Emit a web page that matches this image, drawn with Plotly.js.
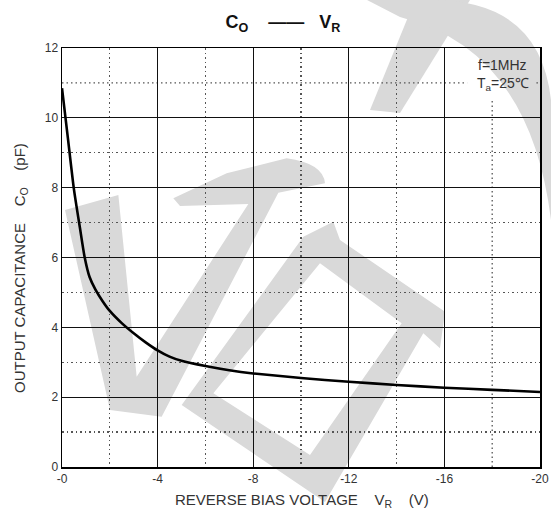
<!DOCTYPE html>
<html>
<head>
<meta charset="utf-8">
<script src="https://cdn.plot.ly/plotly-3.0.1.min.js"></script>
<style>html,body{margin:0;padding:0;background:#fff;}#chart{width:551px;height:515px;}</style>
</head>
<body>
<div id="chart"></div>
<script>
// ---- data ----
const voltage = [0, -0.25, -0.5, -0.75, -0.95, -1.15, -1.4, -1.7, -2, -2.5, -3, -3.5, -4, -4.5, -5, -6, -7, -8, -10, -12, -14, -16, -18, -20];
const capacitance = [10.85, 9.4, 7.95, 6.85, 6.0, 5.45, 5.08, 4.75, 4.47, 4.12, 3.83, 3.57, 3.34, 3.16, 3.04, 2.89, 2.77, 2.68, 2.55, 2.44, 2.35, 2.27, 2.21, 2.15];
const xTickVals = [0, -4, -8, -12, -16, -20];
const xTickText = ['-0', '-4', '-8', '-12', '-16', '-20'];
const yTickVals = [0, 2, 4, 6, 8, 10, 12];
const xMinorVals = [-2, -6, -10, -14];
const yMinorVals = [1, 3, 5, 7, 9];

// ---- decorative watermark (pixel outline -> paper coords) ----
const W = 551, H = 515, mL = 62, mR = 11, mT = 48, mB = 48;
const pw = W - mL - mR, ph = H - mT - mB;
function p(x, y) { return ((x - mL) / pw).toFixed(4) + ',' + ((H - mB - y) / ph).toFixed(4); }
function z(x, y) { return p(40 + x / 3, 130 + y / 3); }
const wmColor = '#d9d9d9';
const wmPaths = [
  'M' + z(75,240) + ' L' + z(235,195) + ' L' + z(290,740) + ' L' + z(625,222) + ' L' + z(420,228) + ' L' + z(400,205) +
  ' L' + z(560,130) + ' L' + z(740,85) + ' Q' + z(850,100) + ' ' + z(855,160) + ' L' + z(715,188) + ' L' + z(365,860) + ' L' + z(210,840) + ' Z',
  'M' + z(790,320) + ' L' + z(880,275) + ' L' + z(900,330) + ' L' + z(1215,545) + ' L' + z(1200,655) + ' L' + z(1150,610) +
  ' L' + z(855,1116) + ' L' + z(425,825) + ' Z M' + z(840,400) + ' L' + z(1085,580) + ' L' + z(810,975) + ' L' + z(520,790) + ' Z',
  'M' + p(415,0) + ' L' + p(470,0) + ' L' + p(400,113) + ' L' + p(370,110) + ' Z',
  'M' + p(367,0) + ' L' + p(432,0) + ' Q' + p(540,0) + ' ' + p(551,100) + ' L' + p(551,220) + ' Q' + p(530,50) + ' ' + p(400,17) + ' Z'
];
const shapes = wmPaths.map(d => ({
  type: 'path', path: d, xref: 'paper', yref: 'paper', layer: 'below',
  fillcolor: wmColor, fillrule: 'evenodd', line: {width: 0}
}));
// dotted grid lines that stop around the condition note
const dotLine = {color: '#555', width: 1.3, dash: '1.5px,3px'};
shapes.push(
  {type: 'line', xref: 'x', yref: 'y', x0: 0, x1: -16.95, y0: 11, y1: 11, layer: 'below', line: dotLine},
  {type: 'line', xref: 'x', yref: 'y', x0: -19.85, x1: -20, y0: 11, y1: 11, layer: 'below', line: dotLine},
  {type: 'line', xref: 'x', yref: 'y', x0: -18, x1: -18, y0: 0, y1: 10.55, layer: 'below', line: dotLine}
);

const font = 'Liberation Sans, Arial, sans-serif';
const txt = '#333';

const trace = {
  x: voltage, y: capacitance, type: 'scatter', mode: 'lines',
  line: {color: '#000', width: 2.6, shape: 'spline', smoothing: 0.6},
  hoverinfo: 'skip', showlegend: false
};

const nb = n => '\u00A0'.repeat(n);

const layout = {
  width: W, height: H,
  margin: {l: mL, r: mR, t: mT, b: mB},
  paper_bgcolor: '#fff', plot_bgcolor: 'rgba(0,0,0,0)',
  font: {family: font, color: txt, size: 12},
  title: {
    text: '<b>C<sub>O</sub>' + nb(4) + '——' + nb(3) + 'V<sub>R</sub></b>',
    x: 283 / W, xref: 'container', xanchor: 'center',
    y: 1 - 22 / H, yref: 'container', yanchor: 'middle',
    font: {family: font, size: 18, color: '#111'}
  },
  xaxis: {
    range: [0, -20], autorange: false,
    tickvals: xTickVals, ticktext: xTickText, ticks: '',
    showgrid: true, gridcolor: '#111', gridwidth: 1.2,
    zeroline: false, showline: true, mirror: true, linecolor: '#000', linewidth: 1.5,
    tickfont: {family: font, size: 12, color: txt},
    minor: {tickvals: xMinorVals, showgrid: true, gridcolor: '#555', gridwidth: 1.3, griddash: '1.5px,3px', ticks: ''},
    fixedrange: true
  },
  yaxis: {
    range: [0, 12], autorange: false,
    tickvals: yTickVals, ticks: '',
    showgrid: true, gridcolor: '#111', gridwidth: 1.2,
    zeroline: false, showline: true, mirror: true, linecolor: '#000', linewidth: 1.5,
    tickfont: {family: font, size: 12, color: txt},
    minor: {tickvals: yMinorVals, showgrid: true, gridcolor: '#555', gridwidth: 1.3, griddash: '1.5px,3px', ticks: ''},
    fixedrange: true
  },
  shapes: shapes,
  annotations: [
    {text: 'REVERSE BIAS VOLTAGE' + nb(4) + 'V<sub>R</sub>' + nb(4) + '(V)',
     xref: 'paper', yref: 'paper', x: (302 - mL) / pw, y: (H - mB - 500) / ph,
     xanchor: 'center', yanchor: 'middle', showarrow: false,
     font: {family: font, size: 15, color: txt}},
    {text: 'OUTPUT CAPACITANCE' + nb(4) + 'C<sub>O</sub>' + nb(4) + '(pF)',
     xref: 'paper', yref: 'paper', x: (20 - mL) / pw, y: (H - mB - 268) / ph,
     xanchor: 'center', yanchor: 'middle', textangle: -90, showarrow: false,
     font: {family: font, size: 15, color: txt}},
    {text: 'f=1MHz', xref: 'paper', yref: 'paper', x: (502 - mL) / pw, y: (H - mB - 65) / ph,
     xanchor: 'center', yanchor: 'middle', showarrow: false, font: {family: font, size: 14, color: txt}},
    {text: 'T<sub>a</sub>=25℃', xref: 'paper', yref: 'paper', x: (503 - mL) / pw, y: (H - mB - 84) / ph,
     xanchor: 'center', yanchor: 'middle', showarrow: false, font: {family: font, size: 14, color: txt}}
  ]
};

Plotly.newPlot('chart', [trace], layout, {staticPlot: true, displayModeBar: false});
</script>
</body>
</html>
